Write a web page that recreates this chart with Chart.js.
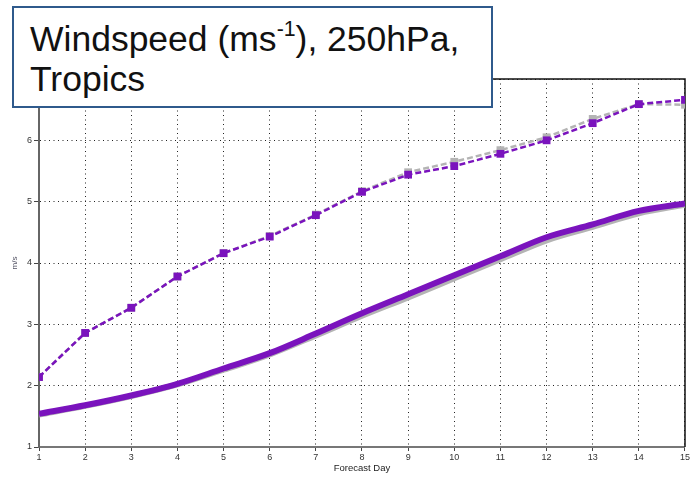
<!DOCTYPE html>
<html>
<head>
<meta charset="utf-8">
<script src="https://cdn.jsdelivr.net/npm/chart.js@4/dist/chart.umd.min.js"></script>
<style>
  html, body { margin: 0; padding: 0; background: #fff; }
  #wrap { position: relative; width: 691px; height: 478px; }
  canvas { position: absolute; left: 0; top: 0; }
  #titlebox {
    position: absolute; left: 12px; top: 6px; width: 477px; height: 98px;
    border: 2px solid #2f5a8c; background: #fff;
    font-family: "Liberation Sans", Arial, sans-serif; font-size: 35.5px; line-height: 40px;
    color: #111; padding: 0; box-sizing: content-box;
  }
  #titlebox .txt { position: absolute; left: 16px; top: 11px; white-space: nowrap; }
  #titlebox sup { font-size: 60%; line-height: 0; position: relative; top: -0.1em; }
</style>
</head>
<body>
<div id="wrap">
  <canvas id="c" width="691" height="478"></canvas>
  <div id="titlebox"><div class="txt">Windspeed (ms<sup>-1</sup>), 250hPa,<br>Tropics</div></div>
</div>
<script>
const days = [1, 2, 3, 4, 5, 6, 7, 8, 9, 10, 11, 12, 13, 14, 15];
const purpleDashed = [2.14, 2.86, 3.27, 3.78, 4.16, 4.43, 4.78, 5.16, 5.44, 5.58, 5.78, 6.00, 6.28, 6.59, 6.66];
const greyDashed   = [2.14, 2.86, 3.27, 3.78, 4.16, 4.44, 4.79, 5.17, 5.48, 5.65, 5.84, 6.05, 6.35, 6.59, 6.58];
const purpleSolid  = [1.54, 1.68, 1.84, 2.03, 2.28, 2.53, 2.85, 3.18, 3.49, 3.80, 4.11, 4.42, 4.63, 4.85, 4.97];
const greySolid    = [1.53, 1.67, 1.83, 2.02, 2.26, 2.51, 2.82, 3.14, 3.44, 3.75, 4.06, 4.37, 4.59, 4.81, 4.95];
const yTicks = [1, 2, 3, 4, 5, 6, 7];

const PURPLE = '#7a13bd';
const GREY = '#b4b4b4';

function pts(arr) { return days.map((d, i) => ({ x: d, y: arr[i] })); }

const framePlugin = {
  id: 'frame',
  beforeDatasetsDraw(chart) {
    const { ctx, chartArea: a } = chart;
    ctx.save();
    ctx.strokeStyle = '#111';
    ctx.lineWidth = 1.5;
    ctx.setLineDash([]);
    ctx.beginPath();
    ctx.moveTo(a.left, a.top);
    ctx.lineTo(a.right, a.top);
    ctx.lineTo(a.right, a.bottom);
    ctx.stroke();
    ctx.restore();
  }
};

new Chart(document.getElementById('c'), {
  type: 'line',
  data: {
    datasets: [
      { data: pts(purpleDashed), borderColor: PURPLE, backgroundColor: PURPLE, borderWidth: 2.5,
        borderDash: [6, 3], pointStyle: 'rect', pointRadius: 5.5, pointBorderWidth: 0, tension: 0, order: 1 },
      { data: pts(greyDashed), borderColor: GREY, backgroundColor: GREY, borderWidth: 2.5,
        borderDash: [6, 3], pointStyle: 'rect', pointRadius: 5.5, pointBorderWidth: 0, tension: 0, order: 3 },
      { data: pts(purpleSolid), borderColor: PURPLE, borderWidth: 6, pointRadius: 0,
        cubicInterpolationMode: 'monotone', order: 2 },
      { data: pts(greySolid), borderColor: GREY, borderWidth: 6, pointRadius: 0,
        cubicInterpolationMode: 'monotone', order: 4 }
    ]
  },
  options: {
    responsive: false,
    animation: false,
    layout: { padding: { left: 0, right: 6, top: 79, bottom: 0 } },
    plugins: { legend: { display: false }, tooltip: { enabled: false } },
    scales: {
      x: {
        type: 'linear', min: 1, max: 15,
        afterFit: s => { s.height = 31; },
        afterBuildTicks: s => { s.ticks = days.map(v => ({ value: v })); },
        ticks: { font: { family: 'Liberation Sans', size: 9 }, color: '#333', padding: 1, maxRotation: 0 },
        grid: { color: '#222', lineWidth: 1, tickLength: 4, tickColor: '#444',
                tickBorderDash: [], tickWidth: 1 },
        border: { color: '#777', width: 2, dash: [1, 3.5] },
        title: { display: true, text: 'Forecast Day', font: { family: 'Liberation Sans', size: 9.5 },
                 color: '#222', padding: { top: 4, bottom: 4 } }
      },
      y: {
        min: 1, max: 7,
        afterFit: s => { s.width = 39; },
        afterBuildTicks: s => { s.ticks = yTicks.map(v => ({ value: v })); },
        ticks: { font: { family: 'Liberation Sans', size: 9 }, color: '#333', padding: 2 },
        grid: { color: '#222', lineWidth: 1, tickLength: 5, tickColor: '#444',
                tickBorderDash: [], tickWidth: 1 },
        border: { color: '#666', width: 2, dash: [1, 3.5] },
        title: { display: true, text: 'm/s', font: { family: 'Liberation Sans', size: 8 },
                 color: '#556', padding: { top: 10, bottom: 10 } }
      }
    }
  },
  plugins: [framePlugin]
});
</script>
</body>
</html>
